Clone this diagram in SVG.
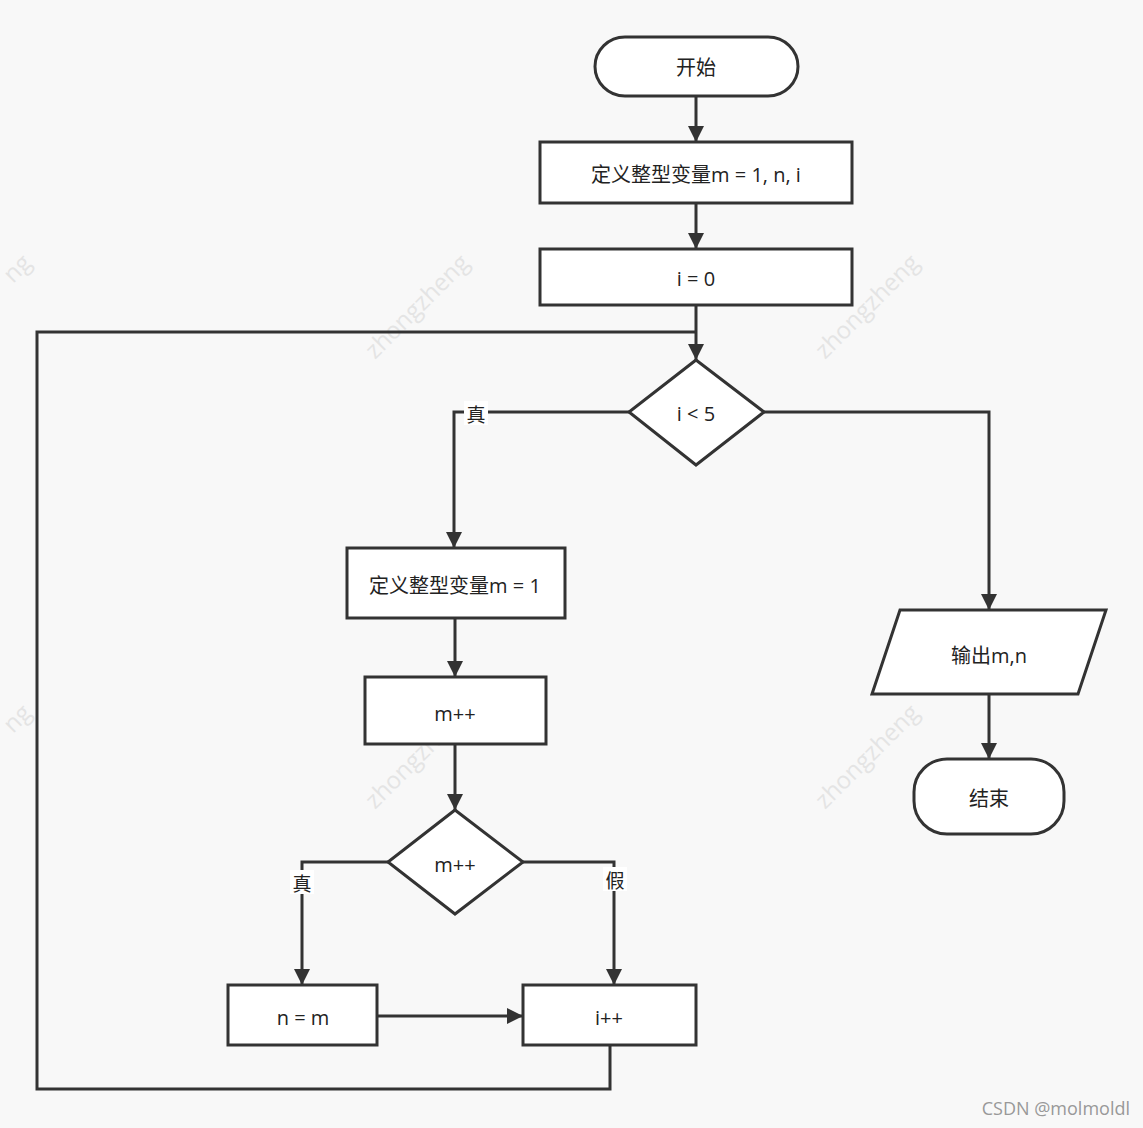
<svg xmlns="http://www.w3.org/2000/svg" width="1143" height="1128" viewBox="0 0 1143 1128">
<defs>
<marker id="arr" markerWidth="16" markerHeight="20" refX="16" refY="8" orient="auto" markerUnits="userSpaceOnUse" viewBox="0 0 16 16">
<path d="M0,0 L16,8 L0,16 z" fill="#333"/>
</marker>
<style>
.n{fill:#fff;stroke:#333;stroke-width:3}
.t{font-family:"Open Sans","Noto Sans CJK SC",sans-serif;font-size:20px;fill:#222;text-anchor:middle;dominant-baseline:central}
.c{fill:none;stroke:#333;stroke-width:3}
.a{marker-end:url(#arr)}
.lb{font-family:"Noto Sans CJK SC",sans-serif;font-size:19px;fill:#222;text-anchor:middle;dominant-baseline:central}
.wm{font-family:"Open Sans",sans-serif;font-size:24px;fill:#e4e4e4}
</style>
</defs>
<rect width="1143" height="1128" fill="#f8f8f8"/>
<g id="watermarks">
<text class="wm" transform="translate(375,360) rotate(-45)">zhongzheng</text>
<text class="wm" transform="translate(825,360) rotate(-45)">zhongzheng</text>
<text class="wm" transform="translate(375,810) rotate(-45)">zhongzheng</text>
<text class="wm" transform="translate(825,810) rotate(-45)">zhongzheng</text>
<text class="wm" transform="translate(13,284) rotate(-45)">ng</text>
<text class="wm" transform="translate(13,734) rotate(-45)">ng</text>
</g>
<g id="connectors">
<line class="c a" x1="696" y1="96" x2="696" y2="142"/>
<line class="c a" x1="696" y1="203" x2="696" y2="249"/>
<line class="c a" x1="696" y1="305" x2="696" y2="360"/>
<polyline class="c a" points="629,412 454,412 454,548"/>
<polyline class="c a" points="764,412 989,412 989,610"/>
<line class="c a" x1="455" y1="618" x2="455" y2="677"/>
<line class="c a" x1="455" y1="744" x2="455" y2="810"/>
<polyline class="c a" points="388,862 302,862 302,985"/>
<polyline class="c a" points="523,862 614,862 614,985"/>
<line class="c a" x1="378" y1="1016" x2="523" y2="1016"/>
<line class="c a" x1="989" y1="694" x2="989" y2="759"/>
<polyline class="c" points="610,1046 610,1089 37,1089 37,332 696,332"/>
<rect x="464" y="401" width="24" height="24" fill="#fff"/>
<text class="lb" x="476" y="413">真</text>
<rect x="290" y="870" width="24" height="24" fill="#fff"/>
<text class="lb" x="302" y="882">真</text>
<rect x="603" y="867" width="24" height="24" fill="#fff"/>
<text class="lb" x="615" y="879">假</text>
</g>
<g id="start"><rect class="n" x="595" y="37" width="203" height="59" rx="30"/><text class="t" x="696" y="67">开始</text></g>
<g id="def1"><rect class="n" x="540" y="142" width="312" height="61"/><text class="t" x="696" y="174">定义整型变量m = 1, n, i</text></g>
<g id="init"><rect class="n" x="540" y="249" width="312" height="56"/><text class="t" x="696" y="278">i = 0</text></g>
<g id="cond1"><polygon class="n" points="696,360 764,412 696,465 629,412"/><text class="t" x="696" y="413">i &lt; 5</text></g>
<g id="def2"><rect class="n" x="347" y="548" width="218" height="70"/><text class="t" x="455" y="585">定义整型变量m = 1</text></g>
<g id="minc"><rect class="n" x="365" y="677" width="181" height="67"/><text class="t" x="455" y="713">m++</text></g>
<g id="cond2"><polygon class="n" points="455,810 523,862 455,914 388,862"/><text class="t" x="455" y="864">m++</text></g>
<g id="assign"><rect class="n" x="228" y="985" width="149" height="60"/><text class="t" x="303" y="1017">n = m</text></g>
<g id="iinc"><rect class="n" x="523" y="985" width="173" height="60"/><text class="t" x="609" y="1017">i++</text></g>
<g id="output"><polygon class="n" points="900,610 1106,610 1078,694 872,694"/><text class="t" x="989" y="655">输出m,n</text></g>
<g id="end"><rect class="n" x="914" y="759" width="150" height="75" rx="33"/><text class="t" x="989" y="798">结束</text></g>
<text x="1130" y="1115" font-family="Open Sans, sans-serif" font-size="18" fill="#999" text-anchor="end">CSDN @molmoldl</text>
</svg>
